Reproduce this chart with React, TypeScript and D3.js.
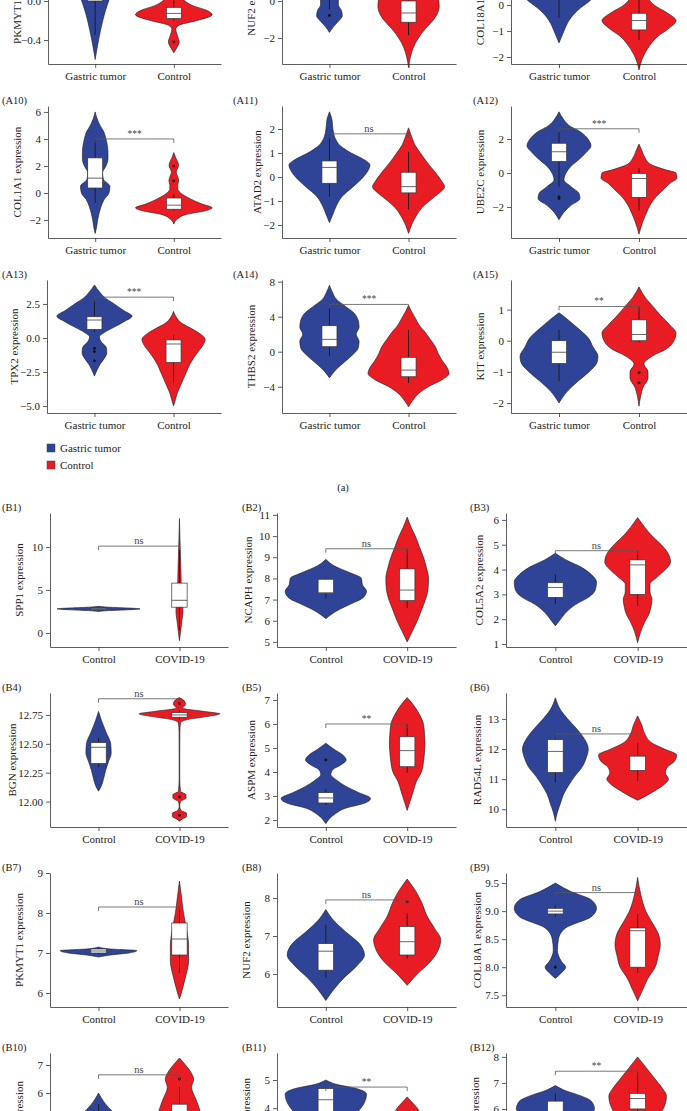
import { useEffect, useRef } from "react";
import * as d3 from "d3";

const W = 687;
const H = 1111;
const BLUE = "#2f4496";
const RED = "#e91c24";
const FONT = "'Liberation Serif', 'DejaVu Serif', serif";

// groups
const groupsA = ["Gastric tumor", "Control"];
const groupsB = ["Control", "COVID-19"];

// violin profiles: [expression, relative density]; boxes: [lo, q1, median, q3, hi]
const A7_gt = [[0.6, 0], [0.45, 18], [0.3, 30], [0.15, 24], [0.05, 16], [-0.05, 12], [-0.15, 9], [-0.3, 5.5], [-0.45, 2.5], [-0.6, 0]];
const A7_ct = [[0.2, 0], [0.1, 4], [0.01, 10], [-0.05, 20], [-0.09, 32], [-0.14, 39], [-0.2, 24], [-0.25, 5], [-0.29, 2], [-0.35, 3.5], [-0.42, 5.5], [-0.48, 3], [-0.53, 0]];
const A8_gt = [[2.6, 0], [2.0, 10], [1.4, 24], [0.9, 28], [0.5, 20], [0.15, 9], [-0.2, 9], [-0.5, 12], [-0.8, 13], [-1.1, 9], [-1.4, 4], [-1.7, 0]];
const A8_ct = [[2.2, 0], [1.5, 12], [0.8, 24], [0.2, 30], [-0.3, 31], [-0.7, 29], [-1.1, 24], [-1.5, 17], [-2.0, 10], [-2.5, 5], [-3.0, 2], [-3.6, 0]];
const A9_gt = [[2.6, 0], [2.1, 12], [1.6, 26], [1.1, 36], [0.6, 37], [0.2, 32], [-0.1, 22], [-0.35, 15], [-0.6, 10], [-1.0, 5], [-1.46, 0]];
const A9_ct = [[1.2, 0], [0.7, 3], [0.3, 8], [0.0, 15], [-0.3, 28], [-0.6, 37], [-0.9, 30], [-1.2, 19], [-1.6, 10], [-2.0, 4], [-2.5, 0]];
const A10_gt = [[6.0, 0], [5.5, 2], [5.0, 5], [4.5, 9], [4.0, 11], [3.0, 13], [2.5, 13], [2.0, 11], [1.5, 7.5], [1.0, 8.5], [0.5, 15], [0.0, 14], [-0.5, 9], [-1.0, 6], [-1.5, 4], [-2.0, 2.5], [-2.5, 1.5], [-3.0, 0]];
const A10_ct = [[3.0, 0], [2.6, 2], [2.2, 4.5], [2.0, 4.8], [1.7, 3], [1.5, 2.5], [1.2, 4], [0.9, 5], [0.6, 4], [0.3, 4], [0.0, 7], [-0.4, 16], [-0.8, 28], [-1.1, 39], [-1.3, 33], [-1.6, 12], [-1.9, 4], [-2.3, 0]];
const A11_gt = [[2.72, 0], [2.4, 2.5], [2.0, 3.5], [1.6, 6], [1.3, 11], [1.0, 22], [0.7, 36], [0.5, 41], [0.2, 38], [-0.1, 32], [-0.4, 24], [-0.8, 13], [-1.2, 7], [-1.5, 4], [-1.9, 0]];
const A11_ct = [[2.05, 0], [1.7, 3], [1.3, 7], [1.0, 12], [0.6, 19], [0.2, 27], [-0.2, 34], [-0.4, 36.5], [-0.7, 30], [-1.0, 21], [-1.3, 13], [-1.6, 8], [-2.0, 3], [-2.35, 0]];
const A12_gt = [[3.6, 0], [3.2, 4], [2.8, 10], [2.4, 22], [2.0, 29], [1.6, 32], [1.2, 27], [0.8, 20], [0.4, 12], [0.0, 7], [-0.4, 5], [-0.8, 12], [-1.2, 20], [-1.5, 21], [-1.9, 12], [-2.3, 5], [-2.75, 0]];
const A12_ct = [[1.7, 0], [1.3, 3], [0.9, 6], [0.5, 12], [0.2, 26], [0.0, 37], [-0.3, 38], [-0.6, 31], [-1.0, 24], [-1.4, 17], [-1.8, 12], [-2.4, 7], [-3.0, 3], [-3.6, 0]];
const A13_gt = [[3.9, 0], [3.4, 5], [3.0, 10], [2.5, 20], [2.0, 30], [1.6, 38], [1.2, 30], [0.8, 20], [0.4, 10], [0.1, 5], [-0.3, 7], [-0.7, 12], [-1.1, 12.5], [-1.5, 10], [-1.9, 6], [-2.3, 3], [-2.8, 0]];
const A13_ct = [[1.95, 0], [1.5, 3], [1.1, 8], [0.7, 18], [0.3, 27], [-0.1, 32], [-0.5, 30], [-1.0, 25], [-1.5, 20], [-2.0, 16], [-2.5, 13], [-3.0, 10], [-3.5, 7], [-4.0, 4], [-4.5, 2], [-5.0, 0]];
const A14_gt = [[7.6, 0], [6.8, 3], [6.0, 7], [5.2, 16], [4.4, 25], [3.6, 29], [2.8, 30], [2.0, 27], [1.2, 30], [0.4, 29], [-0.4, 23], [-1.2, 15], [-2.0, 7], [-3.0, 0]];
const A14_ct = [[5.3, 0], [4.6, 3], [3.8, 7], [3.0, 11], [2.2, 17], [1.4, 22], [0.6, 27], [-0.2, 30], [-1.0, 34], [-1.8, 39], [-2.5, 41], [-3.2, 34], [-4.0, 20], [-4.8, 10], [-5.6, 4], [-6.3, 0]];
const A15_gt = [[0.9, 0], [0.7, 8], [0.4, 19], [0.1, 29], [-0.2, 34], [-0.5, 39], [-0.7, 38], [-1.0, 30], [-1.3, 19], [-1.6, 9], [-2.0, 0]];
const A15_ct = [[1.73, 0], [1.4, 6], [1.1, 14], [0.8, 22], [0.5, 31], [0.25, 37], [0.0, 35], [-0.25, 28], [-0.5, 13], [-0.75, 5], [-1.0, 9], [-1.2, 9], [-1.5, 4], [-1.8, 1.5], [-2.1, 0]];

const B1_ct = [[3.1, 0], [3.0, 10], [2.9, 30], [2.8, 41], [2.7, 30], [2.6, 10], [2.5, 0]];
const B1_cv = [[13.3, 0], [11, 0.5], [9, 1], [7, 1.5], [5, 2], [3.5, 3], [2.5, 3.5], [1.5, 2.5], [0.5, 1.5], [-0.9, 0]];
const B2_ct = [[8.9, 0], [8.6, 8], [8.3, 22], [8.0, 35], [7.7, 36], [7.4, 40], [7.1, 37], [6.8, 25], [6.5, 12], [6.1, 0]];
const B2_cv = [[10.9, 0], [10.4, 4], [10.0, 8], [9.5, 12], [9.0, 16], [8.5, 19], [8.0, 21], [7.5, 20.5], [7.0, 18], [6.5, 14], [6.0, 10], [5.5, 5], [5.0, 0]];
const B3_ct = [[4.66, 0], [4.4, 10], [4.1, 25], [3.8, 35], [3.5, 40], [3.2, 39], [2.9, 33], [2.6, 20], [2.3, 11], [2.0, 5], [1.73, 0]];
const B3_cv = [[6.1, 0], [5.7, 7], [5.4, 13], [5.0, 23], [4.7, 29], [4.3, 32], [4.0, 27], [3.7, 19], [3.4, 12], [3.1, 12], [2.8, 14], [2.5, 13], [2.2, 11], [1.9, 7], [1.5, 3], [1.05, 0]];
const B4_ct = [[12.78, 0], [12.7, 3], [12.6, 7.5], [12.5, 12], [12.42, 12.5], [12.35, 10], [12.27, 7], [12.2, 5], [12.14, 3], [12.09, 0]];
const B4_cv = [[12.9, 0], [12.87, 5], [12.84, 6], [12.81, 3], [12.78, 25], [12.76, 40], [12.74, 30], [12.71, 8], [12.68, 1], [12.6, 0.4], [12.4, 0.3], [12.2, 0.3], [12.09, 1], [12.06, 6.5], [12.03, 6.5], [12.0, 1], [11.96, 0.3], [11.92, 2], [11.9, 7], [11.87, 7], [11.85, 3], [11.83, 0]];
const B5_ct = [[5.2, 0], [4.95, 8], [4.7, 17], [4.5, 20], [4.3, 15], [4.1, 7], [3.9, 5], [3.65, 11], [3.4, 20], [3.15, 32], [2.9, 44], [2.7, 38], [2.5, 20], [2.25, 9], [1.85, 0]];
const B5_cv = [[7.1, 0], [6.8, 6], [6.4, 12], [6.0, 16], [5.6, 17], [5.2, 17.5], [4.8, 17], [4.4, 16], [4.0, 14], [3.6, 9], [3.2, 6], [2.8, 3], [2.4, 0]];
const B6_ct = [[13.7, 0], [13.3, 5], [13.0, 12], [12.7, 20], [12.4, 27], [12.0, 32], [11.7, 30], [11.4, 26], [11.1, 19], [10.8, 13], [10.5, 8], [10.2, 5], [9.9, 2], [9.6, 0]];
const B6_cv = [[13.1, 0], [12.8, 4], [12.5, 7], [12.2, 14], [12.0, 26], [11.8, 38], [11.6, 36], [11.4, 29], [11.2, 27], [11.0, 30], [10.8, 25], [10.6, 16], [10.4, 6], [10.3, 0]];
const B7_ct = [[7.15, 0], [7.1, 12], [7.06, 38], [7.0, 30], [6.95, 12], [6.9, 0]];
const B7_cv = [[8.8, 0], [8.4, 2], [8.0, 4], [7.6, 7], [7.2, 9], [6.8, 9], [6.4, 6], [6.1, 3], [5.85, 0]];
const B8_ct = [[7.7, 0], [7.4, 8], [7.1, 20], [6.8, 33], [6.5, 38], [6.2, 30], [5.9, 18], [5.6, 8], [5.3, 0]];
const B8_cv = [[8.5, 0], [8.2, 8], [7.9, 14], [7.5, 20], [7.2, 27], [6.9, 33], [6.6, 30], [6.3, 22], [6.0, 10], [5.7, 0]];
const B9_ct = [[9.5, 0], [9.35, 15], [9.2, 35], [9.05, 40], [8.9, 35], [8.7, 10], [8.5, 3], [8.3, 2], [8.1, 6], [8.0, 10], [7.9, 6], [7.8, 0]];
const B9_cv = [[9.6, 0], [9.3, 3], [9.0, 8], [8.8, 14], [8.6, 20], [8.4, 22], [8.2, 20], [8.0, 17], [7.8, 10], [7.6, 5], [7.4, 0]];
const B10_ct = [[6.0, 0], [5.7, 5], [5.3, 15], [4.9, 30], [4.5, 38], [4.0, 25], [3.5, 10], [3.0, 0]];
const B10_cv = [[7.25, 0], [7.0, 6], [6.7, 12], [6.5, 14], [6.2, 12], [5.8, 16], [5.4, 20], [5.0, 22], [4.5, 18], [4.0, 10], [3.5, 4], [3.0, 0]];
const B11_ct = [[5.0, 0], [4.85, 10], [4.7, 30], [4.5, 40], [4.2, 38], [3.8, 30], [3.4, 20], [3.0, 12], [2.5, 5], [2.0, 0]];
const B11_cv = [[4.4, 0], [4.2, 5], [4.0, 10], [3.7, 14], [3.3, 20], [2.9, 25], [2.5, 20], [2.0, 10], [1.6, 0]];
const B12_ct = [[6.9, 0], [6.7, 10], [6.5, 25], [6.3, 35], [6.0, 38], [5.7, 30], [5.3, 15], [4.9, 5], [4.5, 0]];
const B12_cv = [[8.0, 0], [7.7, 6], [7.4, 12], [7.1, 18], [6.8, 24], [6.5, 28], [6.1, 26], [5.7, 20], [5.2, 10], [4.8, 0]];

// panel table: id, gene, y domain, ticks, tick format, significance, bracket height, groups
const panelsA = [
  { id: "A7", gene: "PKMYT1", dom: [-0.646, 0.728], ticks: [-0.4, 0, 0.4], fmt: ".1f", sig: "***", at: 0.62,
    g: [{ d: A7_gt, box: [-0.35, 0.0, 0.12, 0.25, 0.5], out: [] }, { d: A7_ct, box: [-0.2, -0.18, -0.127, -0.065, 0.02], out: [-0.42] }] },
  { id: "A8", gene: "NUF2", dom: [-3.41, 3.84], ticks: [-2, 0, 2], fmt: "d", sig: "***", at: 2.8,
    g: [{ d: A8_gt, box: [-0.45, 0.3, 1.0, 1.6, 2.4], out: [-0.78] }, { d: A8_ct, box: [-1.85, -1.15, -0.65, 0.0, 0.9], out: [] }] },
  { id: "A9", gene: "COL18A1", dom: [-2.27, 2.88], ticks: [-2, -1, 0, 1, 2], fmt: "d", sig: "***", at: 2.5,
    g: [{ d: A9_gt, box: [-0.5, 0.5, 0.9, 1.3, 2.2], out: [] }, { d: A9_ct, box: [-1.35, -0.96, -0.6, -0.32, 0.3], out: [] }] },
  { id: "A10", gene: "COL1A1", dom: [-3.33, 6.44], ticks: [-2, 0, 2, 4, 6], fmt: "d", sig: "***", at: 4.0,
    g: [{ d: A10_gt, box: [-0.75, 0.37, 1.1, 2.6, 4.0], out: [] }, { d: A10_ct, box: [-1.3, -1.2, -0.9, -0.37, -0.1], out: [2.0, 0.9] }] },
  { id: "A11", gene: "ATAD2", dom: [-2.54, 2.96], ticks: [-2, -1, 0, 1, 2], fmt: "d", sig: "ns", at: 1.8,
    g: [{ d: A11_gt, box: [-0.82, -0.26, 0.4, 0.67, 1.8], out: [] }, { d: A11_ct, box: [-1.35, -0.66, -0.4, 0.2, 1.05], out: [] }] },
  { id: "A12", gene: "UBE2C", dom: [-3.82, 3.94], ticks: [-2, 0, 2], fmt: "d", sig: "***", at: 2.6,
    g: [{ d: A12_gt, box: [-0.8, 0.68, 1.25, 1.75, 2.45], out: [-1.4, -1.5] }, { d: A12_ct, box: [-2.2, -1.43, -0.32, -0.02, 0.28], out: [] }] },
  { id: "A13", gene: "TPX2", dom: [-5.51, 4.26], ticks: [-5, -2.5, 0, 2.5], fmt: ".1f", sig: "***", at: 3.0,
    g: [{ d: A13_gt, box: [0.45, 0.63, 1.32, 1.56, 2.9], out: [-0.76, -1.0, -1.68] }, { d: A13_ct, box: [-3.32, -1.8, -0.44, -0.14, 0.2], out: [] }] },
  { id: "A14", gene: "THBS2", dom: [-7.0, 8.19], ticks: [-4, 0, 4, 8], fmt: "d", sig: "***", at: 5.4,
    g: [{ d: A14_gt, box: [-0.5, 0.57, 1.41, 2.97, 5.0], out: [] }, { d: A14_ct, box: [-3.57, -2.86, -2.1, -0.64, 2.52], out: [] }] },
  { id: "A15", gene: "KIT", dom: [-2.32, 1.95], ticks: [-2, -1, 0, 1], fmt: "d", sig: "**", at: 1.1,
    g: [{ d: A15_gt, box: [-1.3, -0.73, -0.37, 0.0, 0.35], out: [] }, { d: A15_ct, box: [-0.05, 0.0, 0.2, 0.67, 1.1], out: [-1.02, -1.35] }] },
];

const panelsB = [
  { id: "B1", gene: "SPP1", dom: [-1.63, 13.95], ticks: [0, 5, 10], fmt: "d", sig: "ns", at: 10.1,
    g: [{ d: B1_ct, box: [2.65, 2.72, 2.8, 2.88, 2.95], out: [] }, { d: B1_cv, box: [0.3, 3.0, 3.8, 5.8, 10.0], out: [] }] },
  { id: "B2", gene: "NCAPH", dom: [4.76, 11.09], ticks: [5, 6, 7, 8, 9, 10, 11], fmt: "d", sig: "ns", at: 9.4,
    g: [{ d: B2_ct, box: [7.05, 7.3, 7.32, 7.96, 8.0], out: [] }, { d: B2_cv, box: [6.6, 6.95, 7.45, 8.45, 9.4], out: [] }] },
  { id: "B3", gene: "COL5A2", dom: [0.88, 6.28], ticks: [1, 2, 3, 4, 5, 6], fmt: "d", sig: "ns", at: 4.76,
    g: [{ d: B3_ct, box: [2.6, 2.88, 3.28, 3.47, 3.8], out: [] }, { d: B3_cv, box: [2.53, 3.0, 4.19, 4.39, 4.75], out: [] }] },
  { id: "B4", gene: "BGN", dom: [11.78, 12.94], ticks: [12, 12.25, 12.5, 12.75], fmt: ".2f", sig: "ns", at: 12.89,
    g: [{ d: B4_ct, box: [12.3, 12.33, 12.47, 12.51, 12.55], out: [] }, { d: B4_cv, box: [12.71, 12.73, 12.75, 12.77, 12.79], out: [12.85, 12.04, 11.88] }] },
  { id: "B5", gene: "ASPM", dom: [1.71, 7.29], ticks: [2, 3, 4, 5, 6, 7], fmt: "d", sig: "**", at: 6.0,
    g: [{ d: B5_ct, box: [2.62, 2.71, 2.92, 3.14, 3.3], out: [4.5] }, { d: B5_cv, box: [3.97, 4.22, 4.89, 5.47, 6.0], out: [] }] },
  { id: "B6", gene: "RAD54L", dom: [9.41, 13.86], ticks: [10, 11, 12, 13], fmt: "d", sig: "ns", at: 12.5,
    g: [{ d: B6_ct, box: [10.9, 11.22, 11.92, 12.31, 12.5], out: [] }, { d: B6_cv, box: [10.95, 11.29, 11.76, 11.78, 12.2], out: [] }] },
  { id: "B7", gene: "PKMYT1", dom: [5.65, 9.0], ticks: [6, 7, 8, 9], fmt: "d", sig: "ns", at: 8.15,
    g: [{ d: B7_ct, box: [6.98, 7.0, 7.05, 7.1, 7.12], out: [] }, { d: B7_cv, box: [6.5, 6.95, 7.35, 7.75, 8.15], out: [] }] },
  { id: "B8", gene: "NUF2", dom: [5.13, 8.66], ticks: [6, 7, 8], fmt: "d", sig: "ns", at: 7.95,
    g: [{ d: B8_ct, box: [5.9, 6.1, 6.6, 6.8, 7.3], out: [] }, { d: B8_cv, box: [6.4, 6.5, 6.85, 7.25, 7.6], out: [7.9] }] },
  { id: "B9", gene: "COL18A1", dom: [7.29, 9.68], ticks: [7.5, 8, 8.5, 9, 9.5], fmt: ".1f", sig: "ns", at: 9.33,
    g: [{ d: B9_ct, box: [8.9, 8.95, 9.0, 9.05, 9.1], out: [8.0] }, { d: B9_cv, box: [7.9, 8.0, 8.65, 8.7, 8.95], out: [] }] },
  { id: "B10", gene: "BUB1", dom: [2.64, 7.43], ticks: [3, 4, 5, 6, 7], fmt: "d", sig: "ns", at: 6.65,
    g: [{ d: B10_ct, box: [3.7, 4.3, 4.6, 5.0, 5.6], out: [] }, { d: B10_cv, box: [4.0, 4.6, 5.1, 5.6, 6.2], out: [6.5] }] },
  { id: "B11", gene: "CENPF", dom: [1.2, 5.96], ticks: [2, 3, 4, 5], fmt: "d", sig: "**", at: 4.75,
    g: [{ d: B11_ct, box: [3.0, 3.7, 4.3, 4.7, 4.75], out: [] }, { d: B11_cv, box: [2.2, 2.6, 2.9, 3.3, 3.8], out: [] }] },
  { id: "B12", gene: "KIF20A", dom: [3.0, 8.15], ticks: [4, 5, 6, 7, 8], fmt: "d", sig: "**", at: 7.45,
    g: [{ d: B12_ct, box: [5.2, 5.6, 5.9, 6.3, 6.6], out: [] }, { d: B12_cv, box: [5.4, 6.0, 6.4, 6.6, 7.45], out: [] }] },
];

// layout
const rowsA = [[-70, 64], [106, 238], [280, 413]];
const rowsB = [[513, 647], [693, 827], [873, 1007], [1053, 1187]];
const colsA = [[48, 221], [282, 456], [511, 687]];
const colsB = [[50, 228], [277, 456], [506, 687]];
const tagXA = [2, 233, 473];
const tagXB = [2, 242, 470];
const titleOff: Record<string, number> = { A11: 25, A13: 33, B2: 29, B3: 27, B4: 38, B5: 26, B6: 29, B9: 29 };

function drawPanel(svg: any, p: any, cats: string[], T: number, B: number, L: number, R: number, tagX: number) {
  const g = svg.append("g");
  const x = d3.scalePoint().domain(cats).range([L, R]).padding(0.6);
  const y = d3.scaleLinear().domain(p.dom).range([B, T]);
  const w = d3.scaleLinear().domain([0, 80]).range([0, x.step()]);
  const boxHalf = x.step() * 0.095;
  const fills = [BLUE, RED];

  p.g.forEach((grp: any, i: number) => {
    const cx = x(cats[i]) as number;
    const area = d3
      .area<number[]>()
      .y((d) => y(d[0]))
      .x0((d) => cx - w(d[1]))
      .x1((d) => cx + w(d[1]))
      .curve(d3.curveMonotoneY);
    g.append("path").attr("d", area(grp.d)).attr("fill", fills[i]).attr("stroke", "#1a1a1a").attr("stroke-width", 0.6);
    const [lo, q1, med, q3, hi] = grp.box;
    g.append("line").attr("x1", cx).attr("x2", cx).attr("y1", y(hi)).attr("y2", y(q3)).attr("stroke", "#1a1a1a").attr("stroke-width", 0.9);
    g.append("line").attr("x1", cx).attr("x2", cx).attr("y1", y(q1)).attr("y2", y(lo)).attr("stroke", "#1a1a1a").attr("stroke-width", 0.9);
    g.append("rect")
      .attr("x", cx - boxHalf)
      .attr("width", boxHalf * 2)
      .attr("y", y(q3))
      .attr("height", Math.max(1, y(q1) - y(q3)))
      .attr("fill", "white")
      .attr("stroke", "#333")
      .attr("stroke-width", 0.7);
    g.append("line").attr("x1", cx - boxHalf).attr("x2", cx + boxHalf).attr("y1", y(med)).attr("y2", y(med)).attr("stroke", "#555").attr("stroke-width", 0.9);
    g.selectAll(null)
      .data(grp.out)
      .join("circle")
      .attr("cx", cx)
      .attr("cy", (d: number) => y(d))
      .attr("r", 1.4)
      .attr("fill", "#111");
  });

  // significance bracket
  const x1 = x(cats[0]) as number;
  const x2 = x(cats[1]) as number;
  const ys = y(p.at);
  g.append("path")
    .attr("d", `M${x1},${ys + 4}V${ys}H${x2}V${ys + 4}`)
    .attr("fill", "none")
    .attr("stroke", "#555")
    .attr("stroke-width", 0.8);
  g.append("text")
    .attr("x", (x1 + x2) / 2)
    .attr("y", ys - 2)
    .attr("text-anchor", "middle")
    .style("font-family", FONT)
    .style("font-size", p.sig === "ns" ? "10.5px" : "9.5px")
    .attr("fill", "#444")
    .text(p.sig);

  // axes
  const yAxis = d3.axisLeft(y).tickValues(p.ticks).tickSize(4).tickSizeOuter(0).tickPadding(3).tickFormat(d3.format(p.fmt) as any);
  const xAxis = d3.axisBottom(x).tickSize(4).tickSizeOuter(0).tickPadding(4);
  const ya = g.append("g").attr("transform", `translate(${L},0)`).call(yAxis);
  const xa = g.append("g").attr("transform", `translate(0,${B})`).call(xAxis);
  [ya, xa].forEach((a: any) => {
    a.attr("font-family", FONT).attr("font-size", 11);
    a.selectAll("path,line").attr("stroke", "#333").attr("stroke-width", 0.8);
    a.selectAll("text").attr("fill", "#222");
  });

  const tx = L - (titleOff[p.id] ?? 31);
  g.append("text")
    .attr("transform", `translate(${tx},${(T + B) / 2}) rotate(-90)`)
    .attr("text-anchor", "middle")
    .attr("dy", "0.35em")
    .style("font-family", FONT)
    .style("font-size", "11px")
    .attr("fill", "#222")
    .text(`${p.gene} expression`);

  g.append("text")
    .attr("x", tagX)
    .attr("y", T - 2)
    .style("font-family", FONT)
    .style("font-size", "10.5px")
    .attr("fill", "#222")
    .text(`(${p.id})`);
}

const App = () => {
  const ref = useRef<SVGSVGElement>(null);

  useEffect(() => {
    const svg = d3.select(ref.current);
    svg.selectAll("*").remove();
    svg.append("rect").attr("width", W).attr("height", H).attr("fill", "white");

    panelsA.forEach((p, i) => {
      const [T, B] = rowsA[Math.floor(i / 3)];
      const [L, R] = colsA[i % 3];
      drawPanel(svg, p, groupsA, T, B, p.id === "A13" ? L - 1 : L, R, tagXA[i % 3]);
    });
    panelsB.forEach((p, i) => {
      const [T, B] = rowsB[Math.floor(i / 3)];
      const [L, R] = colsB[i % 3];
      drawPanel(svg, p, groupsB, T, B, L, R, tagXB[i % 3]);
    });

    // legend
    const leg = svg.append("g");
    groupsA.forEach((name, i) => {
      leg.append("rect").attr("x", 47).attr("y", 444 + i * 17).attr("width", 8).attr("height", 8)
        .attr("fill", i === 0 ? BLUE : RED).attr("stroke", "#444").attr("stroke-width", 0.5);
      leg.append("text").attr("x", 60).attr("y", 448 + i * 17).attr("dy", "0.35em")
        .style("font-family", FONT).style("font-size", "11px").attr("fill", "#222").text(name);
    });
    svg.append("text").attr("x", 343).attr("y", 487).attr("dy", "0.35em").attr("text-anchor", "middle")
      .style("font-family", FONT).style("font-size", "10.5px").attr("fill", "#222").text("(a)");
  }, []);

  return (
    <svg
      ref={ref}
      width={W}
      height={H}
      style={{ position: "absolute", left: 0, top: 0, display: "block" }}
    />
  );
};

export default App;
